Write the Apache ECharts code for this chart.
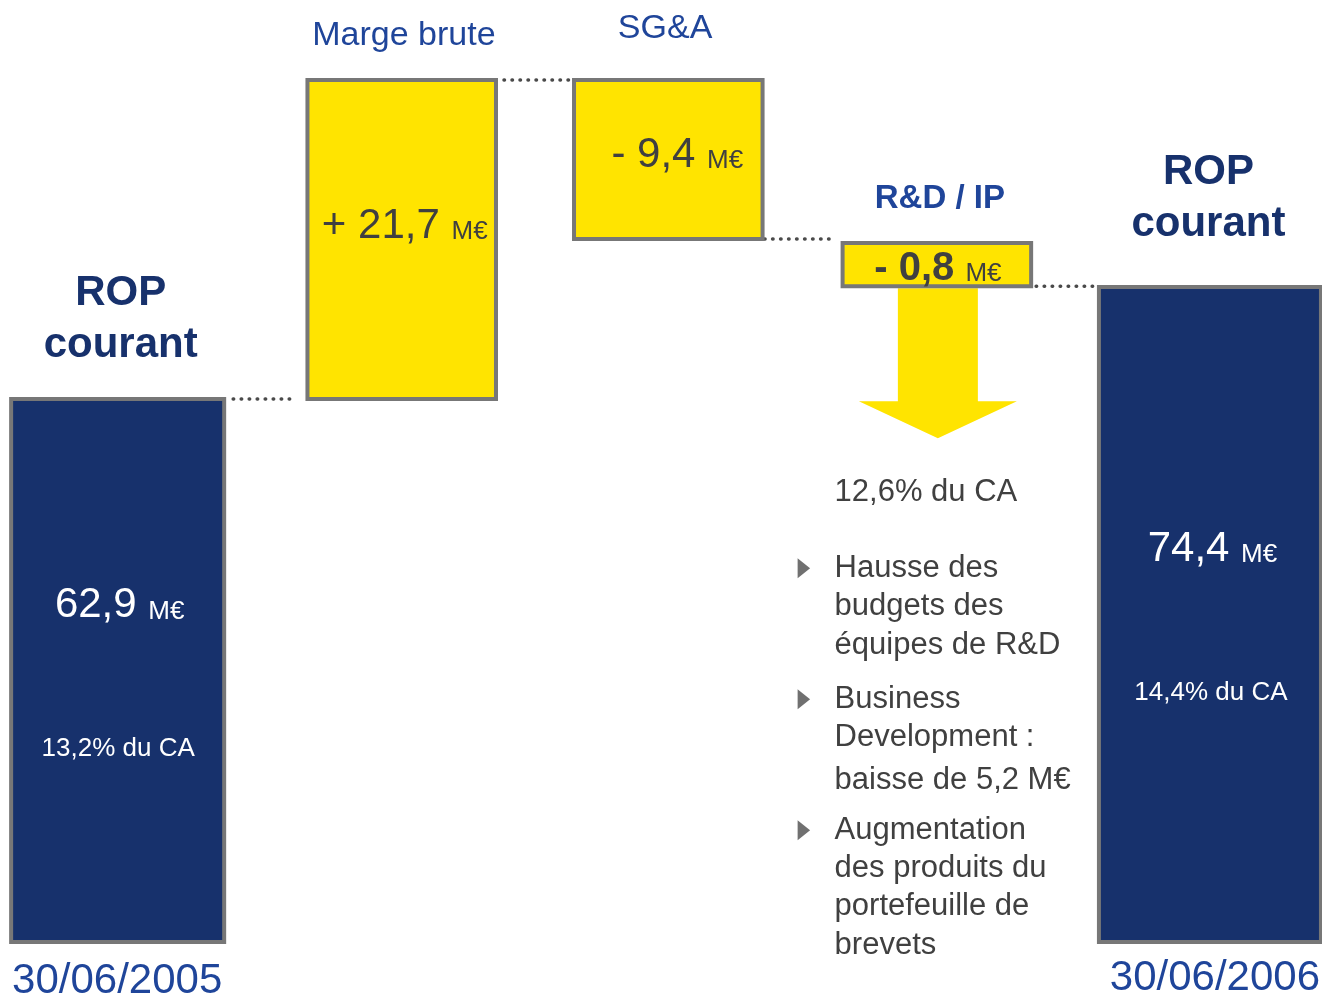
<!DOCTYPE html>
<html><head><meta charset="utf-8">
<script src="https://cdn.jsdelivr.net/npm/echarts@6/dist/echarts.min.js"></script>
<style>html,body{margin:0;padding:0;background:#fff}#c{width:1322px;height:998px}</style>
</head><body><div id="c"></div>
<script>
// ---- data ----
const categories = ['30/06/2005', 'Marge brute', 'SG&A', 'R&D / IP', '30/06/2006'];
const headers = ['ROP\ncourant', 'Marge brute', 'SG&A', 'R&D / IP', 'ROP\ncourant'];
const changeValues = [62.9, 21.7, -9.4, -0.8, 74.4];           // M€
const valueLabels = ['62,9', '+ 21,7', '- 9,4', '- 0,8', '74,4'];
const unitLabel = 'M€';
const shareLabels = ['13,2% du CA', '', '', '12,6% du CA', '14,4% du CA'];
// schematic bar extents as drawn in the slide (not to scale)
const barFrom = [0, 63.0, 100, 81.1, 0];
const barTo = [63.0, 100, 81.55, 76.07, 76.0];
const bullets = [
  ['Hausse des', 'budgets des', 'équipes de R&D'],
  ['Business', 'Development :', 'baisse de 5,2 M€'],
  ['Augmentation', 'des produits du', 'portefeuille de', 'brevets']
];

// ---- styles ----
const NAVY = '#17316C', YELLOW = '#FFE400', BORDER = '#777777', BLUE = '#1F459A', DARK = '#404040';
const FONT = '"Liberation Sans", Arial, Helvetica, sans-serif';
const isTotal = [true, false, false, false, true];
const widthFrac = [0.783, 0.693, 0.693, 0.693, 0.816];
const xShift = [-5, 7, 1.5, -2, -1];
const valuePos = [[2, 0.381], [3, 0.459], [9, 0.475], [1, 0.59], [2.5, 0.4]];
const sharePos = [[0.5, 0.645], null, null, null, [1, 0.62]];
const headerPos = [[3, 54], [2.2, 44], [-3.2, 51], [3, 44], [-1.5, 62]];
const datePos = [[-0.5, 39], null, null, null, [5, 36]];
const connStartGap = [9, 8, 2, 5];
const connEndGap = [16, 4, 8, 6];
const bulletLineY = [[282, 320.5, 359], [413, 451, 494], [544, 582, 620, 659]];

const measureCtx = document.createElement('canvas').getContext('2d');
function textWidth(t, size, weight) {
  measureCtx.font = (weight || 'normal') + ' ' + size + 'px ' + FONT;
  return measureCtx.measureText(t).width;
}

function geom(api, i, from, to) {
  const pTop = api.coord([i, Math.max(from, to)]);
  const pBot = api.coord([i, Math.min(from, to)]);
  const band = api.size([1, 0])[0];
  const w = band * widthFrac[i];
  const cx = pTop[0] + xShift[i];
  return { cx: cx, left: cx - w / 2, right: cx + w / 2, top: pTop[1], bottom: pBot[1], w: w };
}

function renderBar(params, api) {
  const i = api.value(0);
  const g = geom(api, i, api.value(1), api.value(2));
  const h = g.bottom - g.top;
  const children = [];
  if (i === 3) {
    const b = g.bottom + 2, c = g.cx + 1;
    children.push({ type: 'polygon', shape: { points: [
      [c - 40, b], [c + 40, b], [c + 40, b + 113], [c + 79, b + 113], [c, b + 150], [c - 79, b + 113], [c - 40, b + 113]
    ] }, style: { fill: YELLOW } });
    children.push({ type: 'text', style: { x: g.left - 8, y: g.bottom + 206, text: shareLabels[3],
      fill: DARK, fontSize: 31, fontFamily: FONT, align: 'left', verticalAlign: 'middle' } });
    bullets.forEach(function (lines, k) {
      const yc = g.bottom + bulletLineY[k][0];
      const tx = g.left - 39;
      children.push({ type: 'polygon', shape: { points: [[tx - 6, yc - 10], [tx + 6.5, yc], [tx - 6, yc + 10]] },
        style: { fill: '#707070' } });
      lines.forEach(function (t, m) {
        children.push({ type: 'text', style: { x: g.left - 8, y: g.bottom + bulletLineY[k][m], text: t, fill: DARK,
          fontSize: 31, fontFamily: FONT, align: 'left', verticalAlign: 'middle' } });
      });
    });
  }
  children.push({ type: 'rect', shape: { x: g.left, y: g.top, width: g.w, height: h },
    style: { fill: isTotal[i] ? NAVY : YELLOW, stroke: BORDER, lineWidth: 4 } });
  // value label: number + smaller unit sharing one baseline
  const vcol = isTotal[i] ? '#FFFFFF' : DARK;
  const vSize = i === 3 ? 40 : 42, vWeight = i === 3 ? 'bold' : 'normal', uSize = 26;
  const vText = valueLabels[i] + ' ';
  const wv = textWidth(vText, vSize, vWeight), wu = textWidth(unitLabel, uSize, 'normal');
  const lx = g.cx + valuePos[i][0] - (wv + wu) / 2;
  const vy = g.top + h * valuePos[i][1];
  children.push({ type: 'text', style: { x: lx, y: vy, text: vText, fill: vcol, fontSize: vSize,
    fontWeight: vWeight, fontFamily: FONT, align: 'left', verticalAlign: 'middle' } });
  children.push({ type: 'text', style: { x: lx + wv, y: vy + 0.35 * (vSize - uSize), text: unitLabel, fill: vcol,
    fontSize: uSize, fontFamily: FONT, align: 'left', verticalAlign: 'middle' } });
  if (sharePos[i]) {
    children.push({ type: 'text', style: { x: g.cx + sharePos[i][0], y: g.top + h * sharePos[i][1],
      text: shareLabels[i], fill: '#FFFFFF', fontSize: 26, fontFamily: FONT, align: 'center', verticalAlign: 'middle' } });
  }
  // header above bar
  const total = isTotal[i];
  const lh = total ? 52 : (i === 3 ? 33 : 34);
  children.push({ type: 'text', style: {
    x: g.cx + headerPos[i][0], y: g.top - headerPos[i][1] + lh / 2, text: headers[i],
    fill: total ? NAVY : BLUE, fontSize: total ? 42 : (i === 3 ? 33 : 34),
    fontWeight: (total || i === 3) ? 'bold' : 'normal', lineHeight: lh,
    fontFamily: FONT, align: 'center', verticalAlign: 'bottom' } });
  if (datePos[i]) {
    children.push({ type: 'text', style: { x: g.cx + datePos[i][0], y: g.bottom + datePos[i][1],
      text: categories[i], fill: BLUE, fontSize: 42, fontFamily: FONT, align: 'center', verticalAlign: 'middle' } });
  }
  return { type: 'group', children: children };
}

function renderConnector(params, api) {
  const i = api.value(0);
  const level = api.value(1);
  const a = geom(api, i, barFrom[i], barTo[i]);
  const b = geom(api, i + 1, barFrom[i + 1], barTo[i + 1]);
  const y = api.coord([i, level])[1];
  return { type: 'line', shape: { x1: a.right + connStartGap[i], y1: y, x2: b.left - connEndGap[i], y2: y },
    style: { stroke: '#4A4A4A', lineWidth: 3.5, lineDash: [0.5, 7.5], lineCap: 'round' } };
}

const chart = echarts.init(document.getElementById('c'), null, { renderer: 'canvas' });
chart.setOption({
  backgroundColor: '#FFFFFF',
  animation: false,
  grid: { left: 0, right: 0, top: 80, bottom: 56 },
  xAxis: { type: 'value', min: -0.4508, max: 4.4082, show: false },
  yAxis: { type: 'value', min: 0, max: 100, show: false },
  series: [
    { type: 'custom', name: 'connectors', renderItem: renderConnector, silent: true,
      encode: { x: 0, y: 1 },
      data: [0, 1, 2, 3].map(function (i) { return [i, barTo[i]]; }) },
    { type: 'custom', name: 'ROP', renderItem: renderBar,
      encode: { x: 0, y: [1, 2] },
      data: categories.map(function (c, i) { return [i, barFrom[i], barTo[i], changeValues[i]]; }) }
  ]
});
</script></body></html>
